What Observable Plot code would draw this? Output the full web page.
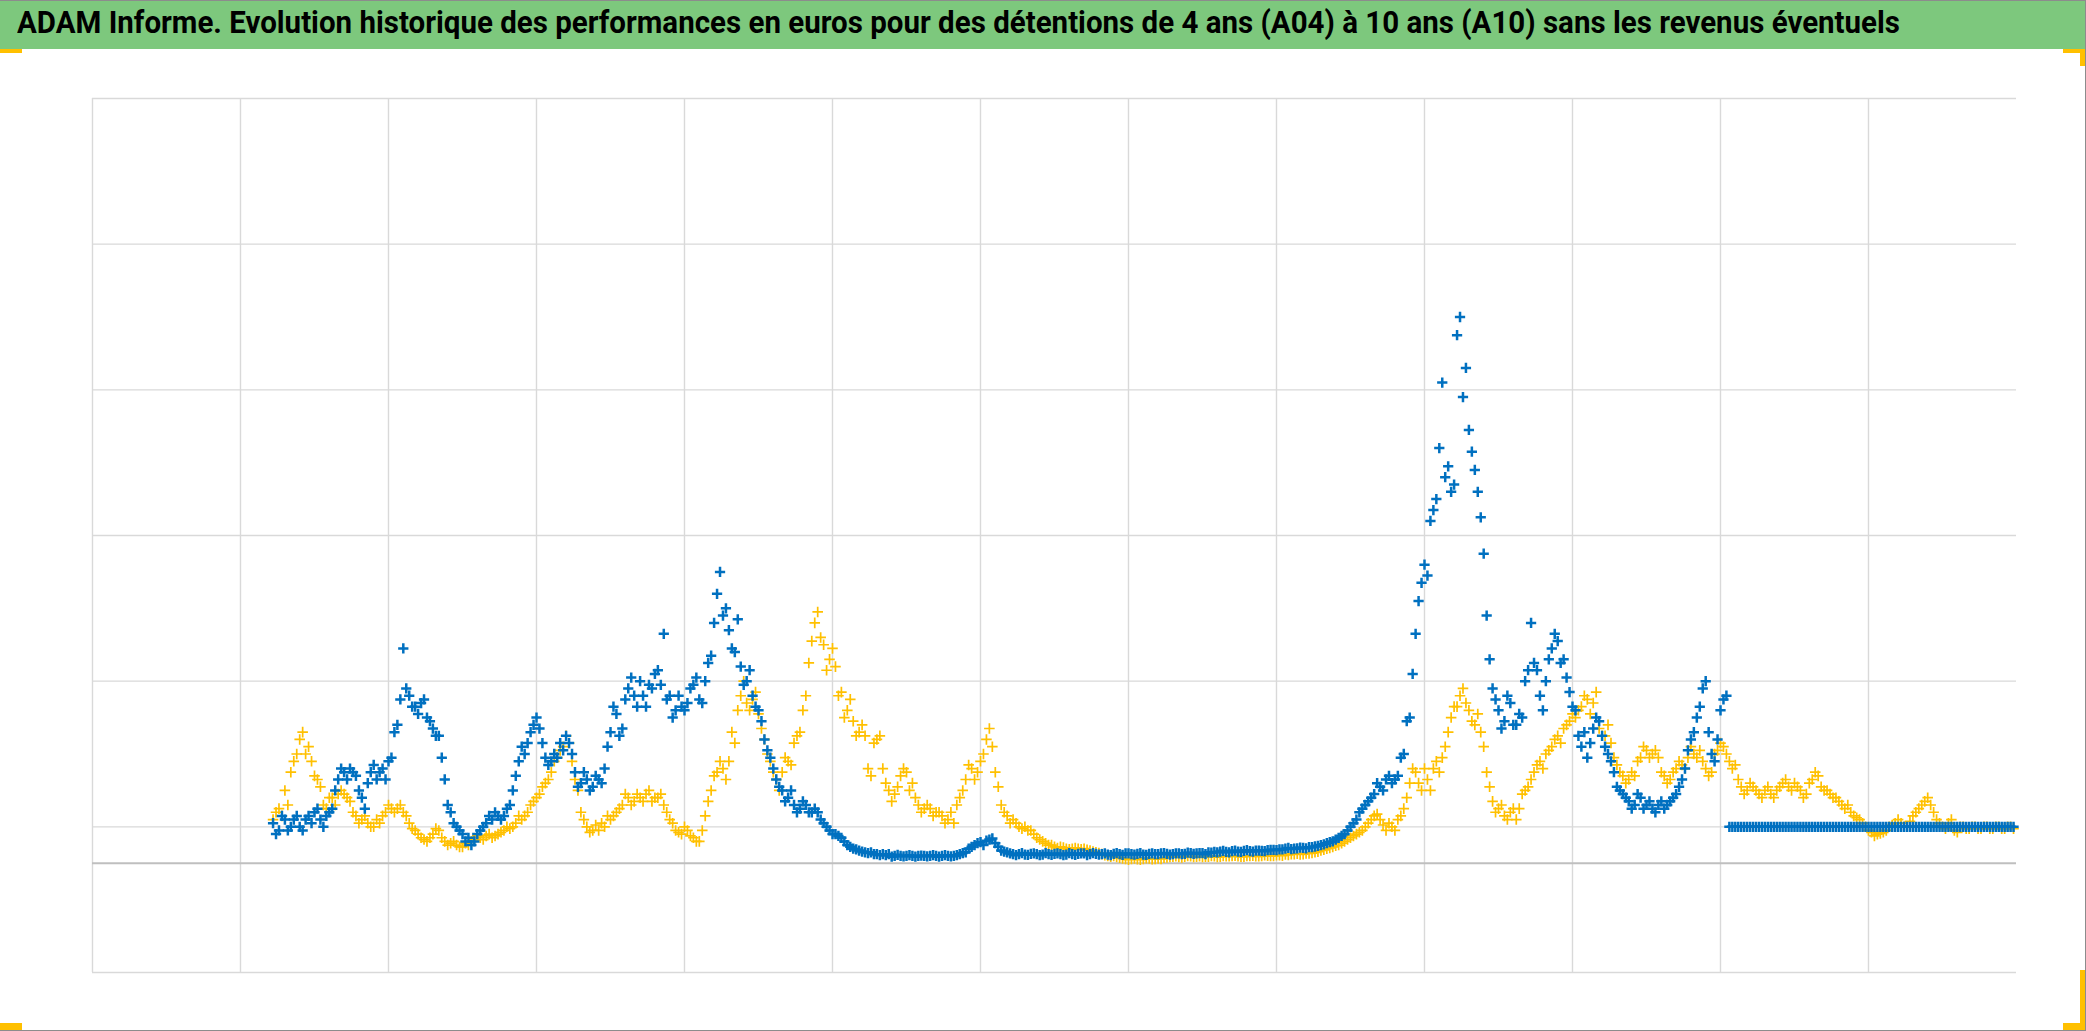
<!DOCTYPE html>
<html>
<head>
<meta charset="utf-8">
<script src="https://cdn.jsdelivr.net/npm/d3@7"></script>
<script src="https://cdn.jsdelivr.net/npm/@observablehq/plot@0.6"></script>
<style>
  html, body { margin: 0; padding: 0; background: #fff; }
  #page { position: relative; width: 2086px; height: 1031px; overflow: hidden; background: #fff; }
  #titlebar { position: absolute; left: 0; top: 0; width: 2086px; height: 49px; background: #7DC87D; border-top: 1px solid #8c8c8c; box-sizing: border-box; }
  #title { position: absolute; left: 17px; top: 3px; font-family: "Liberation Sans Narrow", "Roboto", "Liberation Sans", sans-serif; font-weight: bold; font-size: 31px; color: #000; white-space: nowrap; transform-origin: 0 0; }
  #chart { position: absolute; left: 0; top: 49px; }
  .mk { position: absolute; background: #FFC000; }
  .edge { position: absolute; background: #8c8c8c; }
</style>
</head>
<body>
<div id="page">
  <div id="titlebar"><div id="title">ADAM Informe. Evolution historique des performances en euros pour des détentions de 4 ans (A04) à 10 ans (A10) sans les revenus éventuels</div></div>
  <div id="chart"></div>
  <div class="mk" style="left:0;top:49px;width:22px;height:4px"></div>
  <div class="mk" style="left:2063px;top:49px;width:22px;height:4px"></div>
  <div class="mk" style="left:2080px;top:49px;width:5px;height:17px"></div>
  <div class="mk" style="left:0;top:1023px;width:22px;height:7px"></div>
  <div class="mk" style="left:2063px;top:1023px;width:22px;height:7px"></div>
  <div class="mk" style="left:2080px;top:970px;width:5px;height:60px"></div>
  <div class="edge" style="left:2085px;top:0;width:1px;height:1031px"></div>
  <div class="edge" style="left:0;top:1030px;width:2086px;height:1px"></div>
</div>
<script>
// Grid / axis values
const xTicks = [0, 100, 200, 300, 400, 500, 600, 700, 800, 900, 1000, 1100, 1200];
const yTicks = [0, 4, 8, 12, 16, 20, 24];
const axisValue = 3;

// Time index of the first observation and spacing between observations
const xStart = 122;
const xStep = 4;
const xStartB = 124; // intermediate observations

// A04 series (blue), observations at xStart + i*xStep
const blueValues = [
  4.1,3.9,4.2,4.0,4.3,3.9,4.3,4.4,4.2,4.3,
  4.5,5.3,5.5,5.6,5.4,4.8,5.2,5.7,5.5,5.3,
  5.9,6.8,8.9,7.6,7.3,7.4,7.0,6.7,6.5,5.3,
  4.4,4.0,3.8,3.7,3.6,3.9,4.1,4.2,4.3,4.3,
  4.6,5.4,6.2,6.3,6.8,6.7,5.9,5.8,5.9,6.1,
  6.3,5.5,5.2,5.3,5.1,5.3,5.6,6.6,7.1,6.7,
  7.8,7.6,8.0,7.3,7.8,8.3,9.3,7.6,7.2,7.3,
  7.4,7.9,7.5,8.0,8.7,10.4,9.8,9.4,8.8,8.4,
  8.0,7.6,7.2,6.4,5.9,5.3,5.0,4.8,4.6,4.5,
  4.6,4.4,4.4,4.1,3.9,3.8,3.7,3.5,3.4,3.35,
  3.3,3.3,3.25,3.25,3.25,3.2,3.2,3.2,3.2,3.2,
  3.2,3.2,3.2,3.2,3.2,3.2,3.25,3.3,3.45,3.55,
  3.5,3.65,3.55,3.35,3.3,3.25,3.25,3.24,3.26,3.25,
  3.24,3.25,3.26,3.25,3.24,3.25,3.26,3.27,3.25,3.26,
  3.25,3.24,3.26,3.25,3.27,3.25,3.26,3.24,3.26,3.25,
  3.27,3.26,3.25,3.27,3.26,3.28,3.27,3.28,3.3,3.31,
  3.32,3.31,3.33,3.32,3.34,3.33,3.35,3.34,3.36,3.37,
  3.38,3.4,3.39,3.41,3.42,3.44,3.46,3.5,3.55,3.6,
  3.7,3.8,4.0,4.2,4.5,4.7,4.9,5.1,5.3,5.2,
  5.4,6.0,7.0,9.3,10.7,10.9,12.7,14.4,13.6,13.2,
  17.5,15.8,14.9,13.8,12.5,9.8,7.8,7.2,6.9,7.4,
  6.8,7.0,8.3,8.5,7.6,8.0,8.9,9.1,8.6,7.7,
  7.2,6.2,5.9,6.7,6.9,6.2,5.8,5.1,4.9,4.7,
  4.6,4.8,4.6,4.5,4.6,4.5,4.7,4.9,5.3,6.1,
  6.6,7.3,8.0,6.0,6.4,7.5,4.0,4.0,4.0,4.0,
  4.0,4.0,4.0,4.0,4.0,4.0,4.0,4.0,4.0,4.0,
  4.0,4.0,4.0,4.0,4.0,4.0,4.0,4.0,4.0,4.0,
  4.0,4.0,4.0,4.0,4.0,4.0,4.0,4.0,4.0,4.0,
  4.0,4.0,4.0,4.0,4.0,4.0,4.0,4.0,4.0,4.0,
  4.0,4.0,4.0,4.0,4.0
];

// A04 series (blue), intermediate observations at xStartB + i*xStep
const blueValuesB = [
  3.8,4.3,3.9,4.2,4.0,4.2,4.1,4.5,4.0,4.4,
  5.0,5.6,5.3,5.5,5.0,4.5,5.5,5.3,5.6,5.8,
  6.6,7.5,7.8,7.3,7.1,7.5,6.9,6.5,5.9,4.6,
  4.1,3.9,3.6,3.5,3.8,4.0,4.3,4.4,4.2,4.5,
  5.0,5.8,6.0,6.6,7.0,6.3,5.7,6.0,6.3,6.5,
  6.0,5.1,5.5,5.0,5.4,5.2,6.2,7.3,6.5,7.5,
  8.1,7.3,7.6,7.9,8.2,7.9,7.5,7.0,7.6,7.2,
  7.8,8.1,7.4,8.5,9.6,11.0,10.0,8.9,9.7,7.9,
  8.3,7.3,6.9,6.1,5.6,5.1,4.7,5.0,4.4,4.7,
  4.4,4.5,4.2,4.0,3.8,3.75,3.6,3.45,3.38,3.32,
  3.28,3.25,3.22,3.22,3.18,3.23,3.19,3.22,3.18,3.21,
  3.19,3.22,3.18,3.22,3.19,3.22,3.28,3.4,3.5,3.58,
  3.62,3.68,3.45,3.32,3.27,3.22,3.28,3.23,3.27,3.22,
  3.28,3.23,3.27,3.22,3.28,3.23,3.27,3.22,3.28,3.24,
  3.27,3.22,3.28,3.23,3.27,3.24,3.28,3.23,3.27,3.25,
  3.28,3.24,3.27,3.25,3.29,3.26,3.28,3.25,3.29,3.3,
  3.34,3.3,3.35,3.31,3.36,3.32,3.35,3.33,3.37,3.36,
  3.38,3.42,3.4,3.43,3.41,3.44,3.48,3.52,3.58,3.65,
  3.75,3.9,4.1,4.4,4.6,4.8,5.2,5.0,5.4,5.3,
  5.9,6.9,8.2,10.2,11.2,12.4,13.0,16.2,13.9,13.4,
  18.0,16.6,14.3,13.2,11.5,8.6,7.5,6.7,7.6,6.8,
  7.1,8.0,9.6,8.3,7.2,8.6,9.3,8.5,8.1,7.3,
  6.5,6.6,6.3,7.0,6.5,6.0,5.5,5.0,4.8,4.5,
  4.9,4.5,4.7,4.4,4.7,4.6,4.8,5.1,5.6,6.4,
  7.0,7.8,6.6,5.8,7.2,7.6,4.0,4.0,4.0,4.0,
  4.0,4.0,4.0,4.0,4.0,4.0,4.0,4.0,4.0,4.0,
  4.0,4.0,4.0,4.0,4.0,4.0,4.0,4.0,4.0,4.0,
  4.0,4.0,4.0,4.0,4.0,4.0,4.0,4.0,4.0,4.0,
  4.0,4.0,4.0,4.0,4.0,4.0,4.0,4.0,4.0,4.0,
  4.0,4.0,4.0,4.0
];

// A10 series (yellow), observations at xStart + i*xStep
const yellowValues = [
  4.2,4.5,5.0,5.5,6.0,6.6,6.2,5.4,5.1,4.5,
  4.8,4.9,4.9,4.7,4.3,4.2,4.1,4.0,4.1,4.4,
  4.5,4.5,4.4,4.1,3.9,3.7,3.6,3.8,3.9,3.6,
  3.55,3.5,3.45,3.5,3.65,3.7,3.75,3.7,3.8,3.9,
  3.95,4.1,4.2,4.4,4.7,4.9,5.2,5.5,5.9,6.2,
  6.3,5.3,4.4,4.0,3.9,3.9,4.0,4.2,4.4,4.6,
  4.8,4.7,4.8,4.9,4.7,4.8,4.6,4.2,3.9,3.8,
  3.9,3.7,3.6,4.3,5.0,5.5,5.6,5.8,6.3,7.6,
  7.4,7.5,7.1,6.4,5.8,5.3,5.5,5.8,6.3,6.6,
  7.6,9.1,9.9,9.0,8.6,8.4,7.7,7.2,6.9,6.6,
  6.5,5.4,6.4,5.6,5.0,4.9,5.4,5.5,5.2,4.6,
  4.5,4.5,4.4,4.3,4.2,4.1,4.8,5.3,5.6,5.5,
  6.0,6.7,5.5,4.6,4.3,4.2,4.0,4.0,3.9,3.7,
  3.6,3.5,3.45,3.45,3.4,3.4,3.4,3.4,3.35,3.3,
  3.25,3.2,3.2,3.15,3.12,3.12,3.11,3.12,3.13,3.12,
  3.12,3.16,3.18,3.17,3.18,3.19,3.18,3.17,3.18,3.19,
  3.18,3.19,3.2,3.19,3.18,3.2,3.19,3.2,3.21,3.2,
  3.22,3.24,3.25,3.26,3.25,3.27,3.3,3.35,3.4,3.45,
  3.5,3.6,3.7,3.8,3.9,4.1,4.3,4.2,3.9,4.0,
  4.2,4.5,5.2,5.5,5.0,5.3,5.6,5.5,6.2,7.0,
  7.3,7.8,7.2,6.8,6.6,5.5,4.7,4.5,4.3,4.4,
  4.2,4.9,5.1,5.5,5.8,6.0,6.2,6.5,6.7,6.9,
  7.0,7.3,7.5,7.4,6.7,6.5,6.3,5.7,5.4,5.3,
  5.4,5.9,6.1,6.0,5.9,5.4,5.3,5.6,5.7,5.9,
  6.0,6.1,5.6,5.5,6.1,6.2,5.8,5.7,5.1,5.0,
  5.1,4.9,5.0,4.9,5.0,5.2,5.1,5.2,5.0,4.9,
  5.3,5.4,5.0,4.9,4.8,4.6,4.6,4.3,4.2,4.0,
  3.85,3.8,3.85,4.0,4.1,4.1,4.0,4.3,4.5,4.7,
  4.6,4.2,4.0,4.1,3.9,4.0,3.95,4.0,3.95,4.0,
  3.95,4.0,3.95,4.0,3.95
];

// A10 series (yellow), intermediate observations at xStartB + i*xStep
const yellowValuesB = [
  4.4,4.3,4.6,5.8,6.4,6.0,5.8,5.3,4.6,4.8,
  4.6,5.0,4.8,4.4,4.1,4.3,4.0,4.2,4.3,4.6,
  4.4,4.6,4.3,3.95,3.8,3.65,3.7,3.95,3.7,3.5,
  3.6,3.45,3.55,3.6,3.75,3.65,3.8,3.75,3.85,4.0,
  4.0,4.3,4.3,4.6,4.8,5.1,5.3,5.8,6.1,6.5,
  5.8,5.0,4.2,3.85,4.05,4.1,4.3,4.3,4.5,4.9,
  4.6,4.9,4.7,5.0,4.8,4.9,4.4,4.1,3.85,4.0,
  3.75,3.6,3.9,4.7,5.4,5.8,5.3,6.6,7.2,8.0,
  7.2,7.7,6.7,6.0,5.5,5.0,5.9,5.7,6.5,7.2,
  8.5,9.6,9.2,8.3,8.9,7.6,7.0,7.5,6.5,6.8,
  5.6,6.3,6.5,5.2,4.7,5.1,5.6,5.0,4.8,4.4,
  4.6,4.3,4.4,4.1,4.4,4.6,5.0,5.7,5.3,5.8,
  6.4,6.2,5.1,4.4,4.1,4.1,3.95,3.9,3.8,3.65,
  3.55,3.5,3.42,3.43,3.38,3.42,3.38,3.37,3.32,3.28,
  3.22,3.18,3.17,3.13,3.1,3.13,3.1,3.14,3.11,3.13,
  3.15,3.17,3.19,3.16,3.2,3.17,3.19,3.18,3.2,3.17,
  3.2,3.19,3.21,3.18,3.2,3.21,3.19,3.22,3.2,3.22,
  3.21,3.23,3.25,3.24,3.27,3.28,3.32,3.37,3.42,3.48,
  3.55,3.65,3.75,3.85,4.0,4.2,4.35,4.05,4.1,3.9,
  4.3,4.8,5.6,5.2,5.6,5.0,5.8,5.9,6.6,7.3,
  7.6,7.4,6.9,7.1,6.2,5.1,4.4,4.6,4.2,4.5,
  4.5,5.0,5.3,5.7,5.6,6.1,6.4,6.3,6.8,7.1,
  7.2,7.6,7.1,7.7,6.5,6.8,5.9,5.5,5.2,5.5,
  5.8,6.2,5.9,6.1,5.5,5.2,5.5,5.8,5.6,6.2,
  5.9,5.8,5.4,6.0,6.3,6.0,5.6,5.3,4.9,5.2,
  5.0,4.8,5.1,4.8,5.1,5.3,5.0,5.1,4.8,5.2,
  5.5,5.1,5.0,4.8,4.7,4.5,4.4,4.25,4.1,3.9,
  3.75,3.82,3.9,4.05,4.2,4.0,4.15,4.4,4.6,4.8,
  4.4,4.1,3.95,4.2,3.85,4.0,3.95,4.0,3.95,4.0,
  3.95,4.0,3.95,4.0
];

const toRows = (vals, start) => vals.map((v, i) => ({t: start + i * xStep, v}));
const blue = toRows(blueValues, xStart).concat(toRows(blueValuesB, xStartB));
const yellow = toRows(yellowValues, xStart).concat(toRows(yellowValuesB, xStartB));

const chart = Plot.plot({
  width: 2086,
  height: 982,
  marginLeft: 92,
  marginRight: 70,
  marginTop: 49,
  marginBottom: 59,
  x: {domain: [0, 1300], axis: null},
  y: {domain: [0, 24], axis: null},
  style: {background: "transparent", overflow: "visible"},
  marks: [
    Plot.ruleX(xTicks, {stroke: "#D9D9D9", strokeWidth: 1.4}),
    Plot.ruleY(yTicks, {stroke: "#D9D9D9", strokeWidth: 1.4}),
    Plot.ruleY([axisValue], {stroke: "#BFBFBF", strokeWidth: 1.8}),
    Plot.dot(yellow, {x: "t", y: "v", symbol: "plus", r: 3.5, stroke: "#FFC000", fill: "none", strokeWidth: 1.7}),
    Plot.dot(blue, {x: "t", y: "v", symbol: "plus", r: 3.4, stroke: "#0070C0", fill: "none", strokeWidth: 2.5})
  ]
});
document.getElementById("chart").appendChild(chart);

// fit the title to the reference width
const t = document.getElementById("title");
const w = t.getBoundingClientRect().width;
t.style.transform = `scaleX(${1883 / w})`;
</script>
</body>
</html>
